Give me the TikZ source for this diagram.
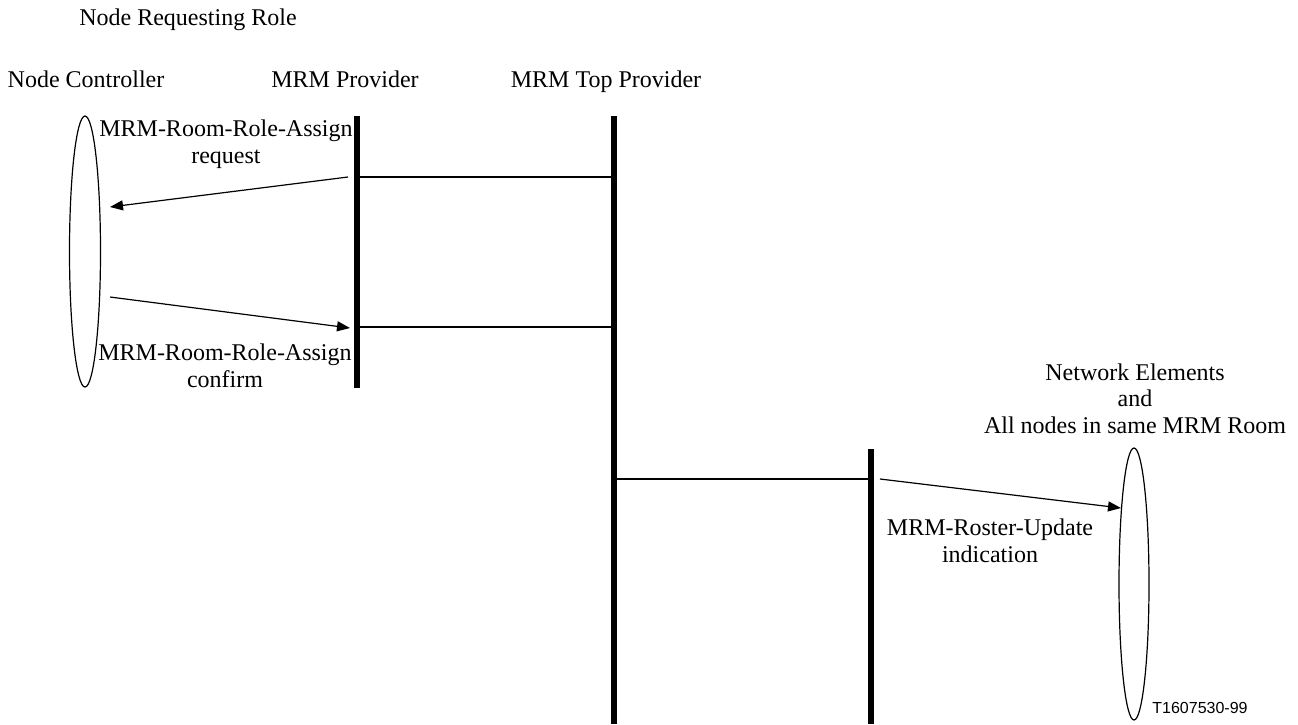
\documentclass[tikz,border=0pt]{standalone}
\usepackage{fontspec}
\setmainfont{Liberation Serif}
\newfontfamily\figidfont{Liberation Sans}
\usetikzlibrary{arrows.meta}
\begin{document}
\begin{tikzpicture}[x=1pt, y=-1pt, line width=1.6pt,
    lbl/.style={font=\fontsize{24}{26.5}\selectfont, inner sep=0pt, align=center, anchor=base},
    bar/.style={line width=6pt},
    msg/.style={->, >={Triangle[length=13pt, width=10pt]}, line width=1.2pt}]
  \useasboundingbox (0,0) rectangle (1298,724);
  % headings
  \node[lbl] (role) at (188,25) {Node Requesting Role};
  \node[lbl] (ctrl) at (86,87) {Node Controller};
  \node[lbl] (prov) at (345,87) {MRM Provider};
  \node[lbl] (top) at (606,87) {MRM Top Provider};
  \node[lbl] (net) at (1135,433) {Network Elements\\and\\All nodes in same MRM Room};
  % bars
  \coordinate (provA) at (357,116);
  \coordinate (provB) at (357,388);
  \coordinate (topA) at (614,116);
  \coordinate (topB) at (614,724);
  \coordinate (neA) at (871,449);
  \coordinate (neB) at (871,724);
  \draw[bar] (provA) -- (provB);
  \draw[bar] (topA) -- (topB);
  \draw[bar] (neA) -- (neB);
  \coordinate (provR) at (357,177);
  \coordinate (topR) at (614,177);
  \coordinate (provC) at (357,327);
  \coordinate (topC) at (614,327);
  \coordinate (topU) at (614,479);
  \coordinate (neU) at (871,479);
  \draw (provR) -- (topR);
  \draw (provC) -- (topC);
  \draw (topU) -- (neU);
  % node ellipses
  \draw[line width=1.2pt] (85,251.5) ellipse (15.5 and 135.5);
  \draw[line width=1.2pt] (1134,584) ellipse (15 and 136);
  % messages
  \coordinate (reqS) at (348,177);
  \coordinate (reqE) at (110,207);
  \coordinate (cnfS) at (110,297);
  \coordinate (cnfE) at (350,328);
  \coordinate (updS) at (880,479);
  \coordinate (updE) at (1121,508);
  \draw[msg] (reqS) -- (reqE);
  \draw[msg] (cnfS) -- (cnfE);
  \draw[msg] (updS) -- (updE);
  \node[lbl] (req) at (226,163) {MRM-Room-Role-Assign\\request};
  \node[lbl] (cnf) at (225,387) {MRM-Room-Role-Assign\\confirm};
  \node[lbl] (upd) at (990,562) {MRM-Roster-Update\\indication};
  \node[font=\figidfont\fontsize{16}{18}\selectfont, inner sep=0pt, anchor=base] (fig) at (1200,713) {T1607530-99};
\end{tikzpicture}
\end{document}
